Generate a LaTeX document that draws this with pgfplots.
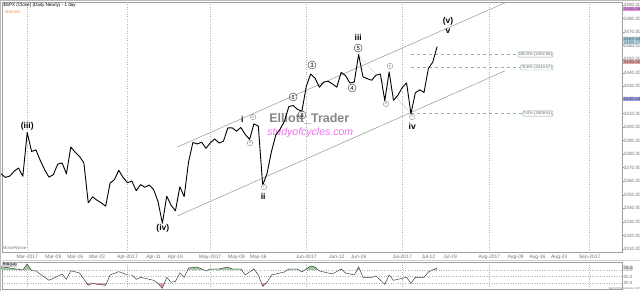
\documentclass[border=0pt]{standalone}
\usepackage{fontspec}
\setmainfont{Liberation Sans}
\usepackage{pgfplots}
\usepackage{pgfplotstable}
\pgfplotsset{compat=1.18}
\definecolor{axgray}{RGB}{160,160,160}
\definecolor{chan}{RGB}{150,150,150}
\definecolor{fibgreen}{RGB}{140,190,140}
\definecolor{oscgreen}{RGB}{160,200,160}
\definecolor{oscred}{RGB}{220,160,170}
\definecolor{wm}{RGB}{135,135,135}
\definecolor{wmpink}{RGB}{245,110,245}
\definecolor{lpink}{RGB}{225,140,225}
\definecolor{lcyan}{RGB}{160,205,225}
\definecolor{lcyan2}{RGB}{200,225,235}
\definecolor{lred}{RGB}{230,160,160}
\definecolor{lblue}{RGB}{150,150,235}
\definecolor{volorange}{RGB}{240,140,80}

\pgfplotstableread{
i P
-6 2365.38
-5 2362.82
-4 2363.81
-3 2367.34
-2 2369.75
-1 2363.64
0 2395.96
1 2381.92
2 2383.12
3 2375.31
4 2368.39
5 2362.98
6 2364.87
7 2372.60
8 2373.47
9 2365.45
10 2385.26
11 2381.38
12 2378.25
13 2373.47
14 2344.02
15 2348.45
16 2345.96
17 2343.98
18 2341.59
19 2358.57
20 2361.13
21 2368.06
22 2362.72
23 2358.84
24 2360.16
25 2352.95
26 2357.49
27 2355.54
28 2357.16
29 2353.78
30 2344.93
31 2328.95
32 2349.01
33 2342.19
34 2338.17
35 2355.84
36 2348.69
37 2374.15
38 2388.61
39 2387.45
40 2388.77
41 2384.20
42 2388.33
43 2391.17
44 2388.13
45 2389.52
46 2399.29
47 2399.38
48 2396.92
49 2399.63
50 2394.44
51 2390.90
52 2402.32
53 2400.67
54 2357.03
55 2365.72
56 2381.73
57 2394.02
58 2398.42
59 2404.39
60 2415.07
61 2415.82
62 2412.91
63 2411.80
64 2430.06
65 2439.07
66 2436.10
67 2429.33
68 2433.14
69 2433.79
70 2431.77
71 2429.39
72 2440.35
73 2437.92
74 2432.46
75 2433.15
76 2453.46
77 2437.03
78 2435.61
79 2434.50
80 2438.30
81 2439.07
82 2419.38
83 2440.69
84 2419.70
85 2423.41
86 2429.01
87 2432.54
88 2409.75
89 2425.18
90 2427.43
91 2425.53
92 2443.25
93 2447.83
94 2459.27
}\price

\pgfplotstableread{
i V
-6 80
-1 70
0 88
1 68
2 67
5 39
6 45
8 58
9 42
10 68
12 61
14 24
15 30
16 27
18 24
19 55
21 65
23 55
24 55
25 42
26 48
29 39
30 30
31 15
32 48
33 33
34 36
35 61
36 48
37 76
39 79
41 67
42 73
44 73
46 79
47 73
49 73
50 55
52 73
53 55
54 21
55 33
56 55
58 61
59 64
60 73
62 73
63 64
65 82
66 79
67 67
68 64
70 58
72 73
73 61
75 55
76 79
77 48
79 48
80 52
82 27
83 55
84 39
86 45
87 48
88 30
89 48
91 48
92 64
93 70
94 76
}\osc

\begin{document}
\begin{tikzpicture}[
  wave/.style={font=\bfseries\fontsize{8.5}{9}\selectfont, inner sep=0pt},
  cnum/.style={circle, draw=black!75, line width=0.45pt, inner sep=0pt, minimum size=8pt, font=\fontsize{6}{6}\selectfont},
  csm/.style={circle, draw=gray, line width=0.35pt, fill=white, inner sep=0pt, minimum size=5.5pt, font=\fontsize{3.5}{3.5}\selectfont, text=gray},
  fiblab/.style={draw=fibgreen!70!gray, fill=white, rounded corners=1pt, inner sep=0.7pt, font=\fontsize{4.2}{4.2}\selectfont, text=gray!80!black, anchor=east},
  rlab/.style={anchor=west, inner sep=0.4pt, font=\fontsize{4.7}{5}\selectfont, text=black!65, xshift=1pt}
]
\path[use as bounding box] (0pt,0pt) rectangle (640pt,291pt);
\fill[white] (0pt,0pt) rectangle (640pt,291pt);
\draw[axgray!70, line width=1pt] (0.5pt,0pt) -- (0.5pt,290.5pt) -- (640pt,290.5pt);
\fill[axgray!50] (0pt,29.5pt) rectangle (640pt,31pt);

% ---------------- main price panel
\begin{axis}[
  at={(2pt,39pt)}, anchor=south west, scale only axis,
  width=620pt, height=250pt,
  xmin=-5.78, xmax=136.4, ymin=2307.75, ymax=2492.25,
  clip=false,
  axis line style={axgray, line width=0.6pt},
  tick align=outside, major tick length=1.5pt,
  tick style={axgray, line width=0.4pt},
  ytick={2310,2320,...,2490}, ytick pos=right, yticklabel pos=right,
  /pgf/number format/assume math mode=true,
  y tick label style={font=\fontsize{4.7}{5}\selectfont, text=gray!90!black, inner sep=0.4pt, xshift=-0.3pt,
    /pgf/number format/.cd, fixed, fixed zerofill, precision=2, 1000 sep={}},
  xtick={0,6,11,16,23,29,34,42,48,53,64,71,76,86,92,97,106,112,117,122,129},
  xticklabels={Mar-2017,Mar-09,Mar-16,Mar-23,Apr-2017,Apr-11,Apr-19,May-2017,May-09,May-16,Jun-2017,Jun-12,Jun-19,Jul-2017,Jul-12,Jul-19,Aug-2017,Aug-09,Aug-16,Aug-23,Sep-2017},
  xtick pos=bottom,
  x tick label style={font=\fontsize{5}{6}\selectfont, text=gray!90!black, inner sep=1pt},
  extra x ticks={0,23,42,64,86,106,129}, extra x tick labels={},
  extra x tick style={grid=major, major tick length=0pt},
  major grid style={axgray!80, dotted, line width=0.5pt},
]
% channel lines
\addplot[chan, line width=0.5pt] coordinates {(34.4,2385.2) (109.6,2491.7)};
\addplot[chan, line width=0.5pt] coordinates {(34.4,2334.3) (109.6,2441.5)};
% fib helper lines
\addplot[fibgreen, densely dotted, line width=0.5pt] coordinates {(76,2453.46) (88,2409.75)};
\addplot[fibgreen, dashed, line width=0.5pt] coordinates {(88,2453.5) (119,2453.5)};
\addplot[fibgreen, dashed, line width=0.5pt] coordinates {(88,2444.0) (119,2444.0)};
\addplot[fibgreen, dashed, line width=0.5pt] coordinates {(88,2410.0) (119,2410.0)};
\node[fiblab] at (axis cs:120.6,2453.5) {100.0\% (2452.84)};
\node[fiblab] at (axis cs:120.6,2444.0) {78.6\% (2443.57)};
\node[fiblab] at (axis cs:120.6,2410.0) {0.0\% (2409.51)};
% watermark
\node[font=\bfseries\fontsize{12.5}{13}\selectfont, text=wm] at (axis cs:64.7,2405.9) {Elliott\_Trader};
\node[font=\itshape\fontsize{10.5}{11}\selectfont, text=wmpink] at (axis cs:64.9,2396.0) {studyofcycles.com};
% price
\addplot[black, line width=0.9pt, line join=round] table[x=i, y=P] {\price};
% wave labels
\node[wave] at (axis cs:0,2400.7) {(iii)};
\node[wave] at (axis cs:31.1,2325.0) {(iv)};
\node[wave] at (axis cs:49.3,2405.9) {i};
\node[wave] at (axis cs:54.1,2349.1) {ii};
\node[wave] at (axis cs:75.9,2466.4) {iii};
\node[wave] at (axis cs:88.3,2400.7) {iv};
\node[wave] at (axis cs:96.5,2478.2) {(v)};
\node[wave] at (axis cs:96.5,2470.8) {v};
\node[cnum] at (axis cs:60.97,2422.1) {1};
\node[cnum] at (axis cs:63.0,2408.9) {2};
\node[cnum] at (axis cs:65.3,2445.8) {3};
\node[cnum] at (axis cs:74.5,2428.8) {4};
\node[cnum] at (axis cs:75.9,2458.3) {5};
\node[csm] at (axis cs:51.1,2388.2) {a};
\node[csm] at (axis cs:51.8,2407.4) {b};
\node[csm] at (axis cs:54.3,2355.7) {c};
\node[csm] at (axis cs:82.3,2417.0) {a};
\node[csm] at (axis cs:83.2,2445.0) {b};
\node[csm] at (axis cs:88.3,2407.4) {c};
% right-side value labels
\node[rlab, fill=lpink] at (axis cs:136.4,2487.1) {2486.56};
\node[rlab, fill=lcyan] at (axis cs:136.4,2464.9) {2463.54};
\node[rlab, fill=lcyan2] at (axis cs:136.4,2461.8) {2459.27};
\node[rlab, fill=lred] at (axis cs:136.4,2448.0) {2446.50};
\node[rlab, fill=lblue] at (axis cs:136.4,2420.7) {2420.16};
% top-left texts
\node[anchor=north west, inner sep=0pt, font=\fontsize{4.6}{5}\selectfont] at (rel axis cs:0.002,0.995) {\$SPX (Close) (Daily Nearly) - 1 day};
\node[anchor=north west, inner sep=0pt, font=\fontsize{4.6}{5}\selectfont, text=volorange] at (rel axis cs:0.004,0.97) {Volume};
\node[anchor=south west, inner sep=0pt, font=\fontsize{4.3}{5}\selectfont, text=gray] at (rel axis cs:0.001,0.01) {MotiveWave};
\end{axis}

% ---------------- oscillator panel
\begin{axis}[
  at={(2pt,2pt)}, anchor=south west, scale only axis,
  width=620pt, height=27pt,
  xmin=-5.78, xmax=136.4, ymin=12.9, ymax=94,
  clip=false,
  axis line style={axgray, line width=0.6pt},
  xtick={0,23,42,64,86,106,129}, xticklabels={},
  xmajorgrids, major tick length=0pt,
  ytick={30,50,70}, ytick pos=right, yticklabel pos=right,
  ymajorgrids,
  major grid style={axgray!80, dotted, line width=0.5pt},
  /pgf/number format/assume math mode=true,
  y tick label style={font=\fontsize{4.5}{5}\selectfont, text=gray!90!black, inner sep=0.4pt, xshift=1pt,
    /pgf/number format/.cd, fixed, fixed zerofill, precision=1},
]
\begin{scope}
\clip (axis cs:-10,70) rectangle (axis cs:140,94);
\addplot[fill=oscgreen, draw=none] table[x=i, y=V] {\osc} -- (axis cs:94,12.9) -- (axis cs:-6,12.9) -- cycle;
\end{scope}
\begin{scope}
\clip (axis cs:-10,12.9) rectangle (axis cs:140,30);
\addplot[fill=oscred, draw=none] table[x=i, y=V] {\osc} -- (axis cs:94,94) -- (axis cs:-6,94) -- cycle;
\end{scope}
\addplot[black!80, line width=0.45pt] table[x=i, y=V] {\osc};
\node[anchor=north west, fill=axgray!50, inner sep=0.7pt, font=\fontsize{4}{4.5}\selectfont] at (rel axis cs:0,1) {RSI(14)};
\node[rlab, fill=axgray!40] at (axis cs:136.4,77) {76.5};
\node[anchor=south east, inner sep=0pt, font=\fontsize{3.2}{3.5}\selectfont, text=gray] at (rel axis cs:1.03,-0.02) {www.motivewave.com};
\end{axis}
\end{tikzpicture}
\end{document}
